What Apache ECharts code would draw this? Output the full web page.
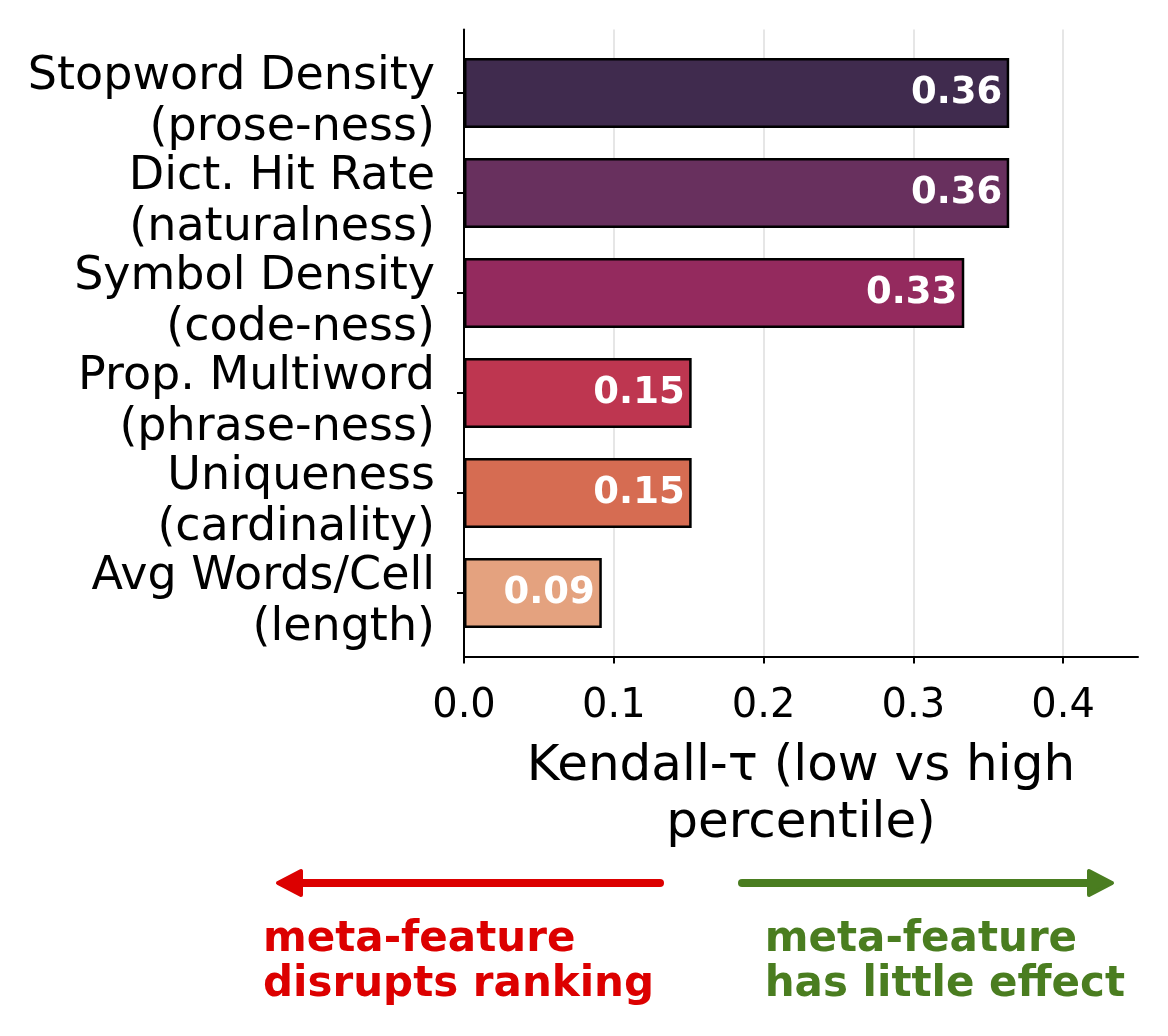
<!DOCTYPE html>
<html lang="en">
<head>
    <meta charset="utf-8">
    <title>Kendall-τ meta-features</title>
    <script src="https://cdn.jsdelivr.net/npm/echarts@6/dist/echarts.min.js"></script>
    <style>
        html, body, #main {
            width: 100%;
            height: 100%;
            margin: 0;
            padding: 0;
            overflow: hidden;
            background-color: #ffffff;
        }
    </style>
</head>
<body>
<div id="main"></div>
<script>
    // data
    var features = [
        'Stopword Density\n(prose-ness)',
        'Dict. Hit Rate\n(naturalness)',
        'Symbol Density\n(code-ness)',
        'Prop. Multiword\n(phrase-ness)',
        'Uniqueness\n(cardinality)',
        'Avg Words/Cell\n(length)'
    ];
    var tau = [0.364, 0.364, 0.334, 0.152, 0.152, 0.092];
    var barColors = ['#402b4e', '#68305e', '#942a5e', '#be3650', '#d66c52', '#e4a27f'];
    var xTicks = [0, 0.1, 0.2, 0.3, 0.4];

    var FONT = 'DejaVu Sans';
    var RED = '#dc0000';
    var GREEN = '#4a7d20';

    var chart = echarts.init(document.getElementById('main'));

    var barData = tau.map(function (v, i) {
        return {value: v, itemStyle: {color: barColors[i]}};
    });

    var option = {
        animation: false,
        textStyle: {fontFamily: FONT},
        grid: [
            // frame (spines, x ticks, gridlines)
            {left: 464, top: 29.5, width: 674, height: 627},
            // bars + y ticks
            {left: 464, top: 43, width: 674, height: 600},
            // y tick labels (sit a little below their ticks, like matplotlib)
            {left: 464, top: 53, width: 674, height: 600}
        ],
        xAxis: [
            {
                gridIndex: 0,
                type: 'value',
                min: 0,
                max: 0.45,
                interval: 0.1,
                axisLine: {show: true, lineStyle: {color: '#000', width: 2}},
                axisTick: {show: true, length: 7, lineStyle: {color: '#000', width: 2}, customValues: xTicks},
                axisLabel: {
                    customValues: xTicks,
                    fontSize: 40,
                    color: '#000',
                    margin: 30,
                    formatter: function (v) { return v.toFixed(1); }
                },
                splitLine: {show: true, lineStyle: {color: '#e6e6e6', width: 2}},
                name: 'Kendall-τ (low vs high\npercentile)',
                nameLocation: 'middle',
                nameGap: 82,
                nameTextStyle: {fontSize: 50, lineHeight: 57, color: '#000'}
            },
            {gridIndex: 1, type: 'value', min: 0, max: 0.45, show: false},
            {gridIndex: 2, type: 'value', min: 0, max: 0.45, show: false}
        ],
        yAxis: [
            {
                gridIndex: 0,
                type: 'value',
                min: 0,
                max: 1,
                axisLine: {show: true, lineStyle: {color: '#000', width: 2}},
                axisTick: {show: false},
                axisLabel: {show: false},
                splitLine: {show: false}
            },
            {
                gridIndex: 1,
                type: 'category',
                inverse: true,
                data: features,
                axisLine: {show: false},
                axisTick: {show: true, alignWithLabel: true, length: 7, lineStyle: {color: '#000', width: 2}},
                axisLabel: {show: false}
            },
            {
                gridIndex: 2,
                type: 'category',
                inverse: true,
                data: features,
                axisLine: {show: false},
                axisTick: {show: false},
                axisLabel: {
                    interval: 0,
                    showMinLabel: true,
                    showMaxLabel: true,
                    hideOverlap: false,
                    fontSize: 46,
                    lineHeight: 51,
                    color: '#000',
                    align: 'right',
                    margin: 29
                }
            }
        ],
        series: [
            {
                type: 'bar',
                xAxisIndex: 1,
                yAxisIndex: 1,
                barWidth: 70,
                data: barData,
                itemStyle: {borderColor: '#000', borderWidth: 2.5},
                label: {
                    show: true,
                    position: 'insideRight',
                    distance: 7,
                    color: '#fff',
                    fontWeight: 'bold',
                    fontSize: 37,
                    formatter: function (p) { return p.value.toFixed(2); }
                }
            }
        ],
        graphic: [
            // red arrow (left)
            {type: 'line', shape: {x1: 298, y1: 883, x2: 660, y2: 883},
                style: {stroke: RED, lineWidth: 8, lineCap: 'round'}},
            {type: 'polygon', shape: {points: [[278, 883], [301, 871], [301, 895]]},
                style: {fill: RED, stroke: RED, lineWidth: 4, lineJoin: 'round'}},
            // green arrow (right)
            {type: 'line', shape: {x1: 742, y1: 883, x2: 1092, y2: 883},
                style: {stroke: GREEN, lineWidth: 8, lineCap: 'round'}},
            {type: 'polygon', shape: {points: [[1112, 883], [1089, 871], [1089, 895]]},
                style: {fill: GREEN, stroke: GREEN, lineWidth: 4, lineJoin: 'round'}},
            {
                type: 'text', left: 263, top: 918,
                style: {
                    text: 'meta-feature\ndisrupts ranking',
                    fill: RED, font: 'bold 42px "DejaVu Sans"',
                    lineHeight: 45, align: 'left'
                }
            },
            {
                type: 'text', right: 43, top: 918,
                style: {
                    text: 'meta-feature\nhas little effect',
                    fill: GREEN, font: 'bold 42px "DejaVu Sans"',
                    lineHeight: 45, align: 'right'
                }
            }
        ]
    };
    chart.setOption(option);
</script>
</body>
</html>
